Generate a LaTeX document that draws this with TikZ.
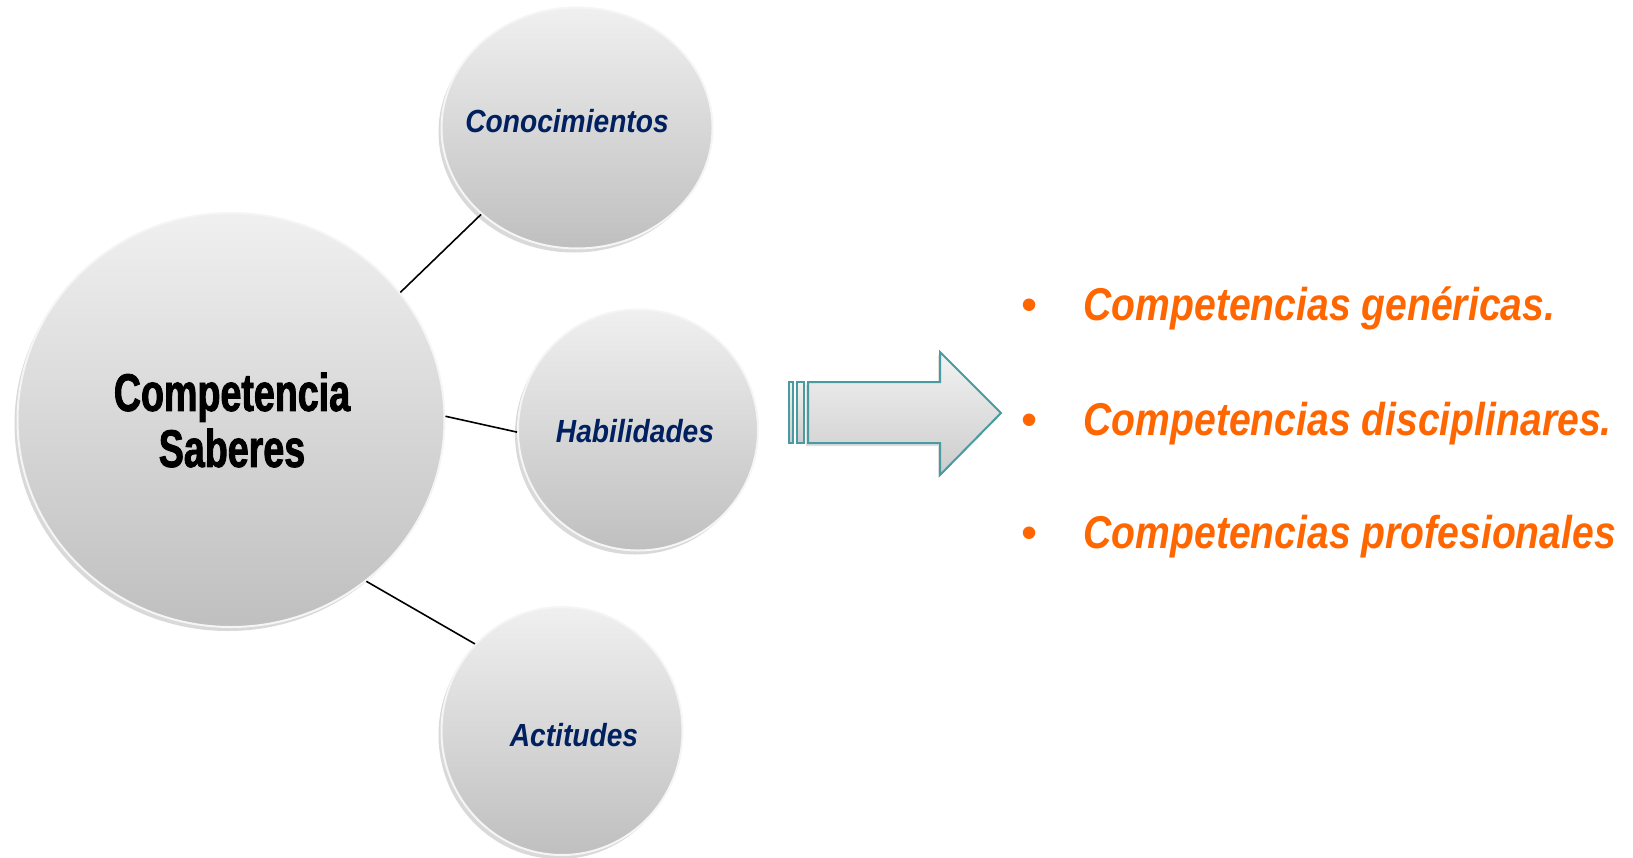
\documentclass[tikz,border=0pt]{standalone}
\usepackage{fontspec}
\setmainfont{Liberation Sans}
\newfontfamily\narrowfont[FakeStretch=0.85]{Liberation Sans}
\newfontfamily\labelfont[FakeStretch=0.88]{Liberation Sans}
\newfontfamily\heavyfont[FakeStretch=0.71,FakeBold=1.6]{Liberation Sans}
\usetikzlibrary{shapes.geometric}
\usetikzlibrary{shadows}
\definecolor{navy}{RGB}{0,32,96}
\definecolor{tangerine}{RGB}{255,102,0}
\definecolor{teal arrow}{RGB}{72,155,160}
\tikzset{%
	% Specifications for style of nodes:
	ball/.style = {ellipse, inner sep=0pt, draw=gray!8, line width=1pt, top color=gray!12, bottom color=gray!50, drop shadow={shadow xshift=-1.5pt, shadow yshift=-2pt, opacity=0.3, fill=gray}},
	know/.style = {text=navy, font=\labelfont\bfseries\itshape\fontsize{16pt}{19pt}\selectfont},
	item/.style = {anchor=base west, inner sep=0pt, text=tangerine, font=\narrowfont\bfseries\itshape\fontsize{23pt}{28pt}\selectfont},
	dot/.style = {anchor=base, inner sep=0pt, text=tangerine, font=\fontsize{23pt}{28pt}\selectfont},
}

\begin{document}
\begin{tikzpicture}[x=0.5pt,y=-0.5pt,semithick]
		\useasboundingbox (0,0) rectangle (1633,857);
		
		\node (Main) [ball, minimum width=213.5pt, minimum height=207pt] at (231,420) {};
		\node (Con) [ball, minimum width=135.5pt, minimum height=120.5pt] at (577,128) {};
		\node (Hab) [ball, minimum width=120pt, minimum height=120.5pt] at (638,430) {};
		\node (Act) [ball, minimum width=120.5pt, minimum height=124pt] at (562,731) {};
		
		\node (Saber) [align=center, font=\heavyfont\bfseries\fontsize{26.5pt}{28pt}\selectfont] at (232,420) {Competencia\\Saberes};
		\node (ConT) [know] at (567,121) {Conocimientos};
		\node (HabT) [know] at (635,431) {Habilidades};
		\node (ActT) [know] at (574,735) {Actitudes};
		
		\draw [line width=0.8pt] (Main.37) -- (Con.-138);
		\draw [line width=0.8pt] (Main.1) -- (Hab.181);
		\draw [line width=0.8pt] (Main.-50) -- (Act.135);
		
		% arrow
		\draw [teal arrow, line width=1pt, top color=gray!10, bottom color=gray!40] (789,382) rectangle (793,443);
		\draw [teal arrow, line width=1pt, top color=gray!10, bottom color=gray!40] (797,382) rectangle (804,443);
		\draw [teal arrow, line width=1pt, top color=gray!10, bottom color=gray!40, drop shadow={shadow xshift=-1pt, shadow yshift=-1.5pt, opacity=0.25, fill=gray}]
			(808,382) -- (940,382) -- (940,352) -- (1001,413) -- (940,475) -- (940,443) -- (808,443) -- cycle;
		
		\node (B1) [dot] at (1030,320) {•};
		\node (B2) [dot] at (1030,435) {•};
		\node (B3) [dot] at (1030,548) {•};
		\node (Gen) [item] at (1083,320) {Competencias genéricas.};
		\node (Dis) [item] at (1083,435) {Competencias disciplinares.};
		\node (Pro) [item] at (1083,548) {Competencias profesionales};
		
     \end{tikzpicture}
\end{document}
